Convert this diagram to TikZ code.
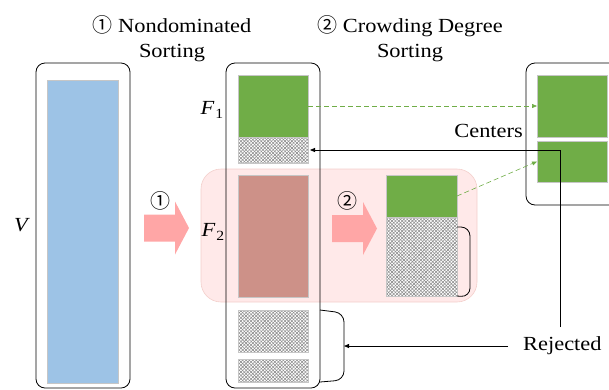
\documentclass[tikz,border=0pt]{standalone}
\usepackage{fontspec}
\setmainfont{Liberation Serif}[FakeStretch=1.12]
\newfontfamily\circfont{Noto Sans CJK SC}
\usetikzlibrary{arrows.meta,patterns.meta}
\definecolor{cblue}{HTML}{9DC3E6}
\definecolor{cgreen}{HTML}{70AD47}
\definecolor{cbrown}{HTML}{CD9188}
\definecolor{cpinkarr}{HTML}{FFA6A6}
\definecolor{cregion}{HTML}{FFE9E9}
\definecolor{cregionb}{HTML}{F3CFCB}
\tikzset{
  big/.style={font=\fontsize{20}{25}\selectfont},
  box/.style={draw=black, line width=0.8pt, rounded corners=9pt, inner sep=0pt, outer sep=0pt, anchor=north west},
  blk/.style={draw=gray!45, line width=0.8pt, inner sep=0pt, outer sep=0pt, anchor=north west},
  hatch/.style={blk, preaction={fill=white},
    preaction={pattern={Lines[angle=45,distance=2.4pt,line width=0.55pt]}, pattern color=gray!90},
    pattern={Lines[angle=-45,distance=2.4pt,line width=0.55pt]}, pattern color=gray!90},
  region/.style={fill=cregion, draw=cregionb, line width=0.6pt, rounded corners=20pt, inner sep=0pt, outer sep=0pt, anchor=north west},
  bigarrow/.style={fill=cpinkarr},
  gdash/.style={draw=cgreen, dash pattern=on 5pt off 3pt, line width=0.6pt, -{Triangle[length=5pt,width=4pt]}},
  arr/.style={draw=black, line width=0.8pt, -{Triangle[length=5pt,width=4pt]}},
  brk/.style={draw=black, line width=0.8pt, rounded corners=9pt}
}
\begin{document}
\begin{tikzpicture}[x=1pt,y=-1pt]
\useasboundingbox (0,0) rectangle (609,389);
% titles
\node[big, align=center] (t1) at (172,39) {{\circfont ①} Nondominated\\Sorting};
\node[big, align=center] (t2) at (410,39) {{\circfont ②} Crowding Degree\\Sorting};
% pink region
\node[region, minimum width=276pt, minimum height=133pt] (pr) at (201,169) {};
% left box
\node[box, minimum width=94pt, minimum height=325pt] (L) at (36,63) {};
\node[blk, fill=cblue, minimum width=71pt, minimum height=303pt] (v) at (47,80) {};
\node[big] (vlab) at (21,225) {\itshape V};
% arrow 1
\coordinate (a1) at (144,228);
\fill[bigarrow] (a1) ++(0,-13.5) -- ++(31,0) -- ++(0,-13) -- ++(14,26.5) -- ++(-14,26.5) -- ++(0,-13) -- ++(-31,0) -- cycle;
\node[big] (a1lab) at (160,201) {\circfont ①};
% middle box
\node[box, minimum width=94pt, minimum height=325pt] (M) at (226,63) {};
\node[blk, fill=cgreen, minimum width=70pt, minimum height=62pt] (f1) at (238,75) {};
\node[hatch, minimum width=70pt, minimum height=26pt] (h1) at (238,137) {};
\node[blk, fill=cbrown, minimum width=70pt, minimum height=122pt] (f2) at (238,175) {};
\node[hatch, minimum width=70pt, minimum height=42pt] (h2) at (238,310) {};
\node[hatch, minimum width=70pt, minimum height=23pt] (h3) at (238,359) {};
\node[big] (f1lab) at (212,110) {\itshape F\kern1pt\raisebox{-4pt}{\fontsize{14}{14}\selectfont\upshape 1}};
\node[big] (f2lab) at (213,232) {\itshape F\kern1pt\raisebox{-4pt}{\fontsize{14}{14}\selectfont\upshape 2}};
% arrow 2
\coordinate (a2) at (332,228.5);
\fill[bigarrow] (a2) ++(0,-13.5) -- ++(31,0) -- ++(0,-13) -- ++(14,26.5) -- ++(-14,26.5) -- ++(0,-13) -- ++(-31,0) -- cycle;
\node[big] (a2lab) at (347,201) {\circfont ②};
% crowding result
\node[blk, fill=cgreen, minimum width=71pt, minimum height=42pt] (g2) at (386,175) {};
\node[hatch, minimum width=71pt, minimum height=79pt] (h4) at (386,217) {};
% right box
\node[box, minimum width=100pt, minimum height=142pt] (R) at (526,63) {};
\node[blk, fill=cgreen, minimum width=70pt, minimum height=62pt] (c1) at (537,75) {};
\node[blk, fill=cgreen, minimum width=70pt, minimum height=41pt] (c2) at (537,141) {};
\node[big, anchor=east, inner sep=0pt] (cen) at (523,131) {Centers};
\node[big, anchor=west, inner sep=0pt] (rej) at (523,346) {Rejected};
% brackets
\draw[brk] (h4.north east) ++(0,10) -- ++(13,0) -- (470,297) -- (h4.south east);
\coordinate (b2) at (344,346);
\draw[brk] (320,310) -- (344,313) -- (344,380) -- (320,382);
% connectors
\draw[gdash] (f1.east) -- (c1.west);
\draw[gdash] (g2.east) -- (c2.west);
\draw[arr] ([xshift=-15pt]rej.west) -- (b2);
\coordinate (vbot) at (560,327);
\coordinate (vtop) at (560,150);
\draw[arr] (vbot) -- (vtop) -- ([xshift=2pt]h1.east);
\end{tikzpicture}
\end{document}
